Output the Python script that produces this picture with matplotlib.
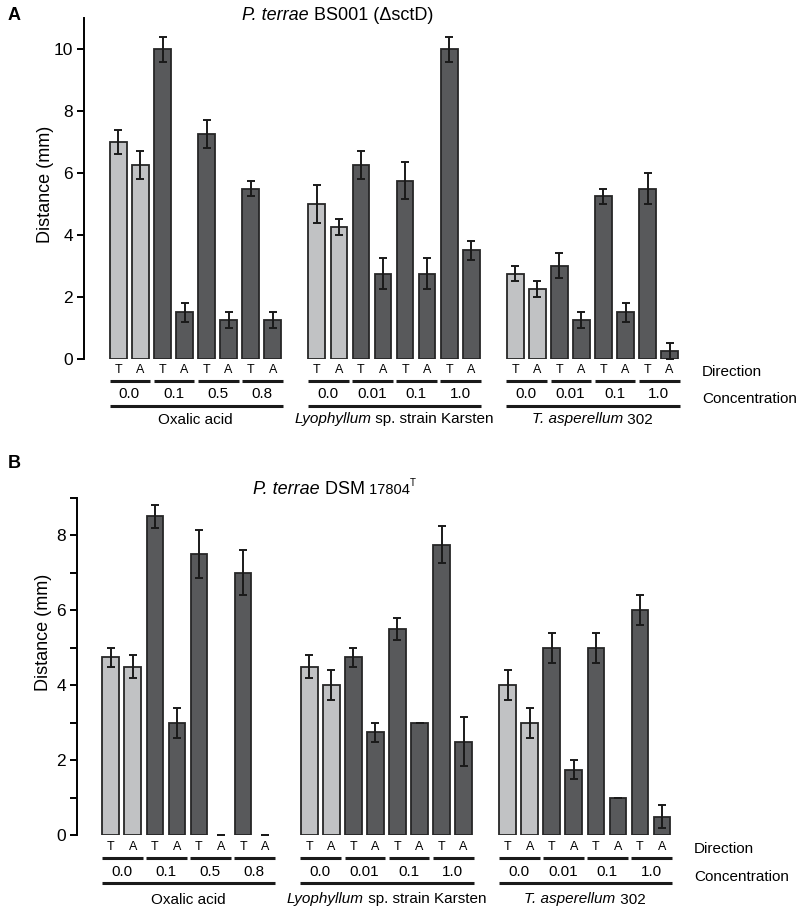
import numpy as np
import matplotlib
matplotlib.use('Agg')
import matplotlib.pyplot as plt
import matplotlib.transforms as mtransforms

plt.rcParams['font.family'] = ['Liberation Sans', 'DejaVu Sans']

# data
directions = ['T', 'A'] * 4
# group names as (text, italic) pieces
groups = [[('Oxalic acid', False)],
          [('Lyophyllum', True), (' sp. strain Karsten', False)],
          [('T. asperellum', True), (' 302', False)]]
concs = [['0.0', '0.1', '0.5', '0.8'],
         ['0.0', '0.01', '0.1', '1.0'],
         ['0.0', '0.01', '0.1', '1.0']]

# panel A: P. terrae BS001 (delta sctD)
a_vals = [[7.0, 6.25, 10.0, 1.5, 7.25, 1.25, 5.5, 1.25],
          [5.0, 4.25, 6.25, 2.75, 5.75, 2.75, 10.0, 3.5],
          [2.75, 2.25, 3.0, 1.25, 5.25, 1.5, 5.5, 0.25]]
a_err = [[0.4, 0.45, 0.4, 0.3, 0.45, 0.25, 0.25, 0.25],
         [0.6, 0.25, 0.45, 0.5, 0.6, 0.5, 0.4, 0.3],
         [0.25, 0.25, 0.4, 0.25, 0.25, 0.3, 0.5, 0.25]]

# panel B: P. terrae DSM 17804T
b_vals = [[4.75, 4.5, 8.5, 3.0, 7.5, 0.0, 7.0, 0.0],
          [4.5, 4.0, 4.75, 2.75, 5.5, 3.0, 7.75, 2.5],
          [4.0, 3.0, 5.0, 1.75, 5.0, 1.0, 6.0, 0.5]]
b_err = [[0.25, 0.3, 0.3, 0.4, 0.65, 0.0, 0.6, 0.0],
         [0.3, 0.4, 0.25, 0.25, 0.3, 0.0, 0.5, 0.65],
         [0.4, 0.4, 0.4, 0.25, 0.4, 0.0, 0.4, 0.3]]

light = '#c1c2c4'
dark = '#58595b'
edge = '#262626'

W, H = 800, 910
fig = plt.figure(figsize=(8, 9.1), dpi=100)
renderer = fig.canvas.get_renderer()


def fy(py):
    return 1 - py / H


def rich_text(x, y, pieces, ha='center'):
    # pieces: (text, italic, size, raise_px); x, y in pixels (y = baseline)
    objs = []
    for s, it, size, rp in pieces:
        t = fig.text(0, fy(y - rp), s, fontsize=size, va='baseline',
                     fontstyle='italic' if it else 'normal')
        objs.append(t)
    widths = [t.get_window_extent(renderer).width for t in objs]
    total = sum(widths)
    start = x - total / 2 if ha == 'center' else x
    for t, w in zip(objs, widths):
        t.set_x(start / W)
        start += w


def panel(vals, errs, ax_x, y0, ytop, ymax, x0_center, ticks, lab_y):
    pitch = 22.05
    left = ax_x / W
    right = 690 / W
    ax = fig.add_axes([left, fy(y0), right - left, fy(ytop) - fy(y0)])
    xl = -(x0_center - ax_x) / pitch
    xr = xl + (690 - ax_x) / pitch
    ax.set_xlim(xl, xr)
    ax.set_ylim(0, ymax)

    for g in range(3):
        pos = np.arange(8) + g * 9
        cols = [light, light] + [dark] * 6
        lws = [1.3 if v > 0 else 0 for v in vals[g]]
        ax.bar(pos, vals[g], width=0.76, color=cols, edgecolor=edge, linewidth=lws, zorder=2)
        ax.errorbar(pos, vals[g], yerr=errs[g], fmt='none', ecolor='#1a1a1a',
                    elinewidth=1.4, capsize=3, capthick=1.4, zorder=3, clip_on=False)

    for s in ['top', 'right', 'bottom']:
        ax.spines[s].set_visible(False)
    ax.spines['left'].set_linewidth(1.4)
    ax.set_xticks([])
    ax.set_yticks(ticks)
    ax.set_yticklabels([str(t) if t % 2 == 0 else '' for t in ticks])
    ax.tick_params(axis='y', length=5, width=1.4, labelsize=12.5, pad=3)

    tr = mtransforms.blended_transform_factory(ax.transData, fig.transFigure)
    ly_dir, ly_line1, ly_conc, ly_line2, ly_grp = lab_y
    for g in range(3):
        base = g * 9
        for i in range(8):
            ax.text(base + i, fy(ly_dir), directions[i], transform=tr, ha='center', va='center', fontsize=9)
        for k in range(4):
            p = base + 2 * k
            ax.plot([p - 0.4, p + 1.45], [fy(ly_line1)] * 2, transform=tr, color='#1a1a1a',
                    lw=2.2, clip_on=False, solid_capstyle='butt')
            ax.text(p + 0.5, fy(ly_conc), concs[g][k], transform=tr, ha='center', va='center', fontsize=11)
        ax.plot([base - 0.4, base + 7.45], [fy(ly_line2)] * 2, transform=tr, color='#1a1a1a',
                lw=2.2, clip_on=False, solid_capstyle='butt')
        xc = ax.transData.transform((base + 3.5, 0))[0]
        rich_text(xc, ly_grp + 5.5, [(s, it, 11, 0) for s, it in groups[g]])
    return ax


ax1 = panel(a_vals, a_err, 84, 358.7, 18.3, 11, 118.4, [0, 2, 4, 6, 8, 10],
            (370, 381, 394, 405.5, 418))
fig.text(702 / W, fy(372), 'Direction', fontsize=11, va='center')
fig.text(702 / W, fy(399), 'Concentration', fontsize=11, va='center')
rich_text(338, 19.5, [('P. terrae', True, 13, 0), (' BS001 (ΔsctD)', False, 13, 0)])
fig.text(45 / W, fy(184), 'Distance (mm)', fontsize=13, rotation=90, ha='center', va='center')
fig.text(8 / W, fy(15), 'A', fontsize=13, fontweight='bold', va='center')

ax2 = panel(b_vals, b_err, 77, 835.3, 497.7, 9, 110.8, list(range(10)),
            (846.5, 858, 871.5, 882.5, 898))
fig.text(694 / W, fy(849), 'Direction', fontsize=11, va='center')
fig.text(694 / W, fy(877), 'Concentration', fontsize=11, va='center')
rich_text(253, 494.5, [('P. terrae', True, 13, 0), (' DSM', False, 13, 0),
                       (' 17804', False, 10.5, 0), ('T', False, 7, 9)], ha='left')
fig.text(43 / W, fy(632), 'Distance (mm)', fontsize=13, rotation=90, ha='center', va='center')
fig.text(8 / W, fy(464), 'B', fontsize=13, fontweight='bold', va='center')

fig.savefig('out.png', dpi=100)
